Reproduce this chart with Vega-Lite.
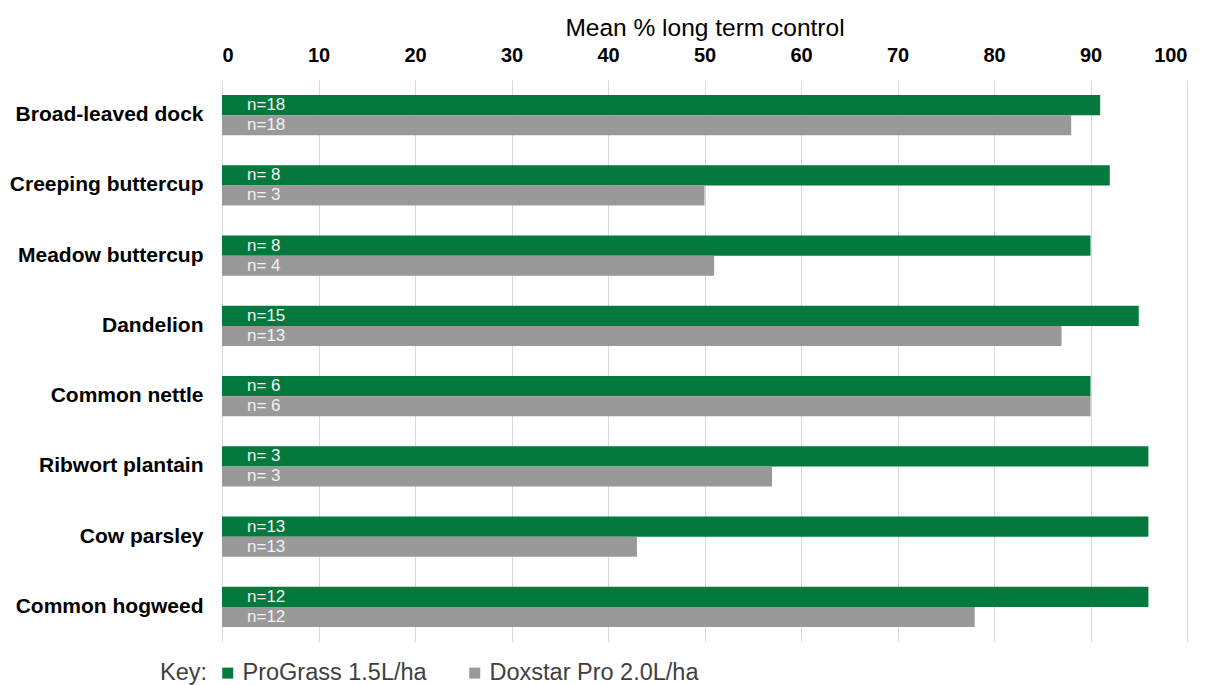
{
  "$schema": "https://vega.github.io/schema/vega-lite/v6.json",
  "width": 965,
  "height": 562,
  "autosize": {"type": "none"},
  "padding": {"left": 222, "top": 80, "right": 20, "bottom": 43},
  "background": "white",
  "config": {
    "font": "Liberation Sans",
    "view": {"stroke": null}
  },
  "data": {
    "values": [
      {"weed": "Broad-leaved dock", "series": "ProGrass 1.5L/ha", "value": 91, "n": "n=18"},
      {"weed": "Broad-leaved dock", "series": "Doxstar Pro 2.0L/ha", "value": 88, "n": "n=18"},
      {"weed": "Creeping buttercup", "series": "ProGrass 1.5L/ha", "value": 92, "n": "n= 8"},
      {"weed": "Creeping buttercup", "series": "Doxstar Pro 2.0L/ha", "value": 50, "n": "n= 3"},
      {"weed": "Meadow buttercup", "series": "ProGrass 1.5L/ha", "value": 90, "n": "n= 8"},
      {"weed": "Meadow buttercup", "series": "Doxstar Pro 2.0L/ha", "value": 51, "n": "n= 4"},
      {"weed": "Dandelion", "series": "ProGrass 1.5L/ha", "value": 95, "n": "n=15"},
      {"weed": "Dandelion", "series": "Doxstar Pro 2.0L/ha", "value": 87, "n": "n=13"},
      {"weed": "Common nettle", "series": "ProGrass 1.5L/ha", "value": 90, "n": "n= 6"},
      {"weed": "Common nettle", "series": "Doxstar Pro 2.0L/ha", "value": 90, "n": "n= 6"},
      {"weed": "Ribwort plantain", "series": "ProGrass 1.5L/ha", "value": 96, "n": "n= 3"},
      {"weed": "Ribwort plantain", "series": "Doxstar Pro 2.0L/ha", "value": 57, "n": "n= 3"},
      {"weed": "Cow parsley", "series": "ProGrass 1.5L/ha", "value": 96, "n": "n=13"},
      {"weed": "Cow parsley", "series": "Doxstar Pro 2.0L/ha", "value": 43, "n": "n=13"},
      {"weed": "Common hogweed", "series": "ProGrass 1.5L/ha", "value": 96, "n": "n=12"},
      {"weed": "Common hogweed", "series": "Doxstar Pro 2.0L/ha", "value": 78, "n": "n=12"}
    ]
  },
  "encoding": {
    "y": {
      "field": "weed",
      "type": "nominal",
      "sort": null,
      "scale": {"paddingInner": 0.43, "paddingOuter": 0.215},
      "axis": {
        "title": null,
        "ticks": false,
        "domain": false,
        "labelFontSize": 21,
        "labelFontWeight": "bold",
        "labelColor": "#000000",
        "labelPadding": 19,
        "labelLimit": 250
      }
    },
    "yOffset": {
      "field": "series",
      "type": "nominal",
      "sort": ["ProGrass 1.5L/ha", "Doxstar Pro 2.0L/ha"]
    }
  },
  "layer": [
    {
      "mark": {"type": "bar"},
      "encoding": {
        "x": {
          "field": "value",
          "type": "quantitative",
          "scale": {"domain": [0, 100], "nice": false},
          "axis": {
            "orient": "top",
            "title": "Mean % long term control",
            "titleFontSize": 24.5,
            "titleFontWeight": "normal",
            "titleColor": "#000000",
            "titlePadding": 5,
            "values": [0, 10, 20, 30, 40, 50, 60, 70, 80, 90, 100],
            "labelFontSize": 20,
            "labelFontWeight": "bold",
            "labelColor": "#000000",
            "labelPadding": 15,
            "ticks": false,
            "domain": false,
            "grid": true,
            "gridColor": "#d9d9d9",
            "gridWidth": 1
          }
        },
        "color": {
          "field": "series",
          "type": "nominal",
          "sort": ["ProGrass 1.5L/ha", "Doxstar Pro 2.0L/ha"],
          "scale": {"range": ["#05793d", "#999999"]},
          "legend": {
            "title": "Key:",
            "orient": "none",
            "direction": "horizontal",
            "legendX": -62,
            "legendY": 581,
            "titleOrient": "left",
            "titleFontSize": 23.5,
            "titleFontWeight": "normal",
            "titleColor": "#404040",
            "titlePadding": 8,
            "labelFontSize": 23.5,
            "labelColor": "#404040",
            "labelLimit": 400,
            "labelOffset": 3,
            "symbolType": "square",
            "symbolSize": 121,
            "symbolStrokeWidth": 0,
            "columnPadding": 36
          }
        }
      }
    },
    {
      "mark": {"type": "text", "align": "left", "baseline": "middle", "dx": 25, "fontSize": 17, "color": "#f2f2f2"},
      "encoding": {
        "x": {"datum": 0, "type": "quantitative"},
        "text": {"field": "n", "type": "nominal"}
      }
    }
  ]
}
